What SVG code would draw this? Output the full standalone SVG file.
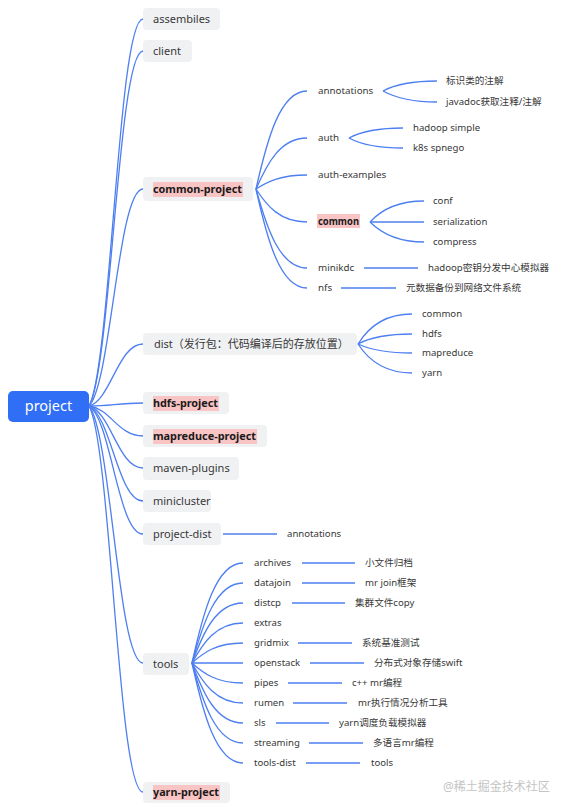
<svg xmlns="http://www.w3.org/2000/svg" width="567" height="812" viewBox="0 0 567 812">
<style>
text{font-family:"Noto Sans","Noto Sans CJK SC",sans-serif;fill:#383838;}
.l1{font-size:11px;}
.l2{font-size:9.8px;}
.l3{font-size:9.6px;}
.b{font-weight:bold;fill:#1a1a1a;}
.box{fill:#f0f1f3;}
.hl{fill:#f9c4c4;}
.c path,.c line{fill:none;stroke:#4d7ff2;stroke-width:1.3;}
.root{fill:#2f6ef5;}
.rt{fill:#ffffff;font-size:14.5px;}
.wm{fill:#c4c4c4;font-size:12px;}
</style>
<g id="connectors" class="c">
<!-- root fan -->
<path d="M89,406 C111,367 118,19 143,19"/>
<path d="M89,406 C111,370 118,51 143,51"/>
<path d="M89,406 C111,384 118,189 143,189"/>
<path d="M89,406 C111,400 118,344 143,344"/>
<path d="M89,406 C111,406 118,403 143,403"/>
<path d="M89,406 C111,409 118,436 143,436"/>
<path d="M89,406 C111,412 118,468 143,468"/>
<path d="M89,406 C111,416 118,501 143,501"/>
<path d="M89,406 C111,419 118,534 143,534"/>
<path d="M89,406 C111,432 118,663 143,663"/>
<path d="M89,406 C111,445 118,792 143,792"/>
<!-- common-project fan -->
<path d="M256,189 C267,140 280,91 307,91"/>
<path d="M256,189 C267,164 280,138 307,138"/>
<path d="M256,189 C267,182 280,175 307,175"/>
<path d="M256,189 C267,206 280,222 307,222"/>
<path d="M256,189 C267,229 280,268 307,268"/>
<path d="M256,189 C267,239 280,288 307,288"/>
<!-- annotations fan -->
<path d="M383,91 C394,85 410,81 437,81"/>
<path d="M383,91 C394,97 410,102 437,102"/>
<!-- auth fan -->
<path d="M349,138 C360,132 376,128 403,128"/>
<path d="M349,138 C360,144 376,148 403,148"/>
<!-- common fan -->
<path d="M370,222 C381,210 397,201 424,201"/>
<path d="M370,222 C381,222 397,222 424,222"/>
<path d="M370,222 C381,233 397,242 424,242"/>
<line x1="364" y1="268" x2="418" y2="268"/>
<line x1="341" y1="288" x2="396" y2="288"/>
<!-- dist fan -->
<path d="M358,344 C369,326 385,314 412,314"/>
<path d="M358,344 C369,338 385,334 412,334"/>
<path d="M358,344 C369,349 385,353 412,353"/>
<path d="M358,344 C369,361 385,373 412,373"/>
<!-- project-dist -->
<line x1="223" y1="534" x2="277" y2="534"/>
<!-- tools fan -->
<path d="M192,663 C203,613 216,563 243,563"/>
<path d="M192,663 C203,623 216,583 243,583"/>
<path d="M192,663 C203,633 216,603 243,603"/>
<path d="M192,663 C203,643 216,623 243,623"/>
<path d="M192,663 C203,653 216,643 243,643"/>
<path d="M192,663 C203,663 216,663 243,663"/>
<path d="M192,663 C203,673 216,683 243,683"/>
<path d="M192,663 C203,683 216,703 243,703"/>
<path d="M192,663 C203,693 216,723 243,723"/>
<path d="M192,663 C203,703 216,743 243,743"/>
<path d="M192,663 C203,713 216,763 243,763"/>
<!-- tools leaf lines -->
<line x1="302" y1="563" x2="355" y2="563"/>
<line x1="302" y1="583" x2="355" y2="583"/>
<line x1="292" y1="603" x2="345" y2="603"/>
<line x1="298" y1="643" x2="352" y2="643"/>
<line x1="310" y1="663" x2="364" y2="663"/>
<line x1="288" y1="683" x2="342" y2="683"/>
<line x1="293" y1="703" x2="347" y2="703"/>
<line x1="276" y1="723" x2="329" y2="723"/>
<line x1="309" y1="743" x2="363" y2="743"/>
<line x1="306" y1="763" x2="360" y2="763"/>
</g>
<g id="project"><rect class="root" x="8" y="391" width="81" height="31" rx="5"/><text class="rt" x="48.5" y="406" dy="0.35em" text-anchor="middle">project</text></g>
<g id="assembiles"><rect class="box" x="143" y="8" width="77" height="22" rx="4"/><text class="l1" x="153" y="19" dy="0.35em">assembiles</text></g>
<g id="client"><rect class="box" x="143" y="40" width="49" height="22" rx="4"/><text class="l1" x="153" y="51" dy="0.35em">client</text></g>
<g id="common-project"><rect class="box" x="143" y="177" width="110" height="24" rx="4"/><rect class="hl" x="153" y="182" width="90" height="15"/><text class="l1 b" x="153" y="189" dy="0.35em" textLength="89" lengthAdjust="spacingAndGlyphs">common-project</text></g>
<g id="dist"><rect class="box" x="143" y="333" width="214" height="22" rx="4"/><text class="l1" x="154" y="344" dy="0.35em">dist（发行包：代码编译后的存放位置）</text></g>
<g id="hdfs-project"><rect class="box" x="143" y="392" width="86" height="22" rx="4"/><rect class="hl" x="153" y="396" width="66" height="15"/><text class="l1 b" x="153" y="403" dy="0.35em" textLength="65" lengthAdjust="spacingAndGlyphs">hdfs-project</text></g>
<g id="mapreduce-project"><rect class="box" x="143" y="425" width="124" height="22" rx="4"/><rect class="hl" x="153" y="429" width="104" height="15"/><text class="l1 b" x="153" y="436" dy="0.35em" textLength="103" lengthAdjust="spacingAndGlyphs">mapreduce-project</text></g>
<g id="maven-plugins"><rect class="box" x="143" y="457" width="96" height="23" rx="4"/><text class="l1" x="153" y="468.5" dy="0.35em">maven-plugins</text></g>
<g id="minicluster"><rect class="box" x="143" y="490" width="68" height="22" rx="4"/><text class="l1" x="153" y="501" dy="0.35em">minicluster</text></g>
<g id="project-dist"><rect class="box" x="143" y="523" width="78" height="22" rx="4"/><text class="l1" x="153" y="534" dy="0.35em">project-dist</text></g>
<g id="tools"><rect class="box" x="143" y="653" width="46" height="22" rx="4"/><text class="l1" x="153" y="664" dy="0.35em">tools</text></g>
<g id="yarn-project"><rect class="box" x="143" y="782" width="87" height="21" rx="4"/><rect class="hl" x="153" y="785" width="67" height="15"/><text class="l1 b" x="153" y="792.5" dy="0.35em" textLength="66" lengthAdjust="spacingAndGlyphs">yarn-project</text></g>
<!-- common-project children -->
<g id="cp-annotations"><text class="l2" x="318" y="91" dy="0.35em">annotations</text></g>
<g id="cp-auth"><text class="l2" x="318" y="138" dy="0.35em">auth</text></g>
<g id="cp-auth-examples"><text class="l2" x="318" y="175" dy="0.35em">auth-examples</text></g>
<g id="cp-common"><rect class="hl" x="317" y="214" width="43" height="14"/><text class="l2 b" x="318" y="221.5" dy="0.35em" textLength="41" lengthAdjust="spacingAndGlyphs">common</text></g>
<g id="cp-minikdc"><text class="l2" x="318" y="268" dy="0.35em">minikdc</text></g>
<g id="cp-nfs"><text class="l2" x="318" y="288" dy="0.35em">nfs</text></g>
<g id="ann-1"><text class="l3" x="446" y="81" dy="0.35em">标识类的注解</text></g>
<g id="ann-2"><text class="l3" x="446" y="102" dy="0.35em">javadoc获取注释/注解</text></g>
<g id="auth-1"><text class="l3" x="413" y="128" dy="0.35em">hadoop simple</text></g>
<g id="auth-2"><text class="l3" x="413" y="148" dy="0.35em">k8s spnego</text></g>
<g id="common-conf"><text class="l3" x="433" y="201" dy="0.35em">conf</text></g>
<g id="common-serialization"><text class="l3" x="433" y="222" dy="0.35em">serialization</text></g>
<g id="common-compress"><text class="l3" x="433" y="242" dy="0.35em">compress</text></g>
<g id="minikdc-1"><text class="l3" x="428" y="268" dy="0.35em">hadoop密钥分发中心模拟器</text></g>
<g id="nfs-1"><text class="l3" x="406" y="288" dy="0.35em">元数据备份到网络文件系统</text></g>
<!-- dist children -->
<g id="dist-common"><text class="l3" x="422" y="314" dy="0.35em">common</text></g>
<g id="dist-hdfs"><text class="l3" x="422" y="334" dy="0.35em">hdfs</text></g>
<g id="dist-mapreduce"><text class="l3" x="422" y="353" dy="0.35em">mapreduce</text></g>
<g id="dist-yarn"><text class="l3" x="422" y="373" dy="0.35em">yarn</text></g>
<g id="pd-annotations"><text class="l3" x="287" y="534" dy="0.35em">annotations</text></g>
<!-- tools children -->
<g id="t-archives"><text class="l3" x="254" y="563" dy="0.35em">archives</text></g>
<g id="t-datajoin"><text class="l3" x="254" y="583" dy="0.35em">datajoin</text></g>
<g id="t-distcp"><text class="l3" x="254" y="603" dy="0.35em">distcp</text></g>
<g id="t-extras"><text class="l3" x="254" y="623" dy="0.35em">extras</text></g>
<g id="t-gridmix"><text class="l3" x="254" y="643" dy="0.35em">gridmix</text></g>
<g id="t-openstack"><text class="l3" x="254" y="663" dy="0.35em">openstack</text></g>
<g id="t-pipes"><text class="l3" x="254" y="683" dy="0.35em">pipes</text></g>
<g id="t-rumen"><text class="l3" x="254" y="703" dy="0.35em">rumen</text></g>
<g id="t-sls"><text class="l3" x="254" y="723" dy="0.35em">sls</text></g>
<g id="t-streaming"><text class="l3" x="254" y="743" dy="0.35em">streaming</text></g>
<g id="t-tools-dist"><text class="l3" x="254" y="763" dy="0.35em">tools-dist</text></g>
<g id="tl-archives"><text class="l3" x="365" y="563" dy="0.35em">小文件归档</text></g>
<g id="tl-datajoin"><text class="l3" x="365" y="583" dy="0.35em">mr join框架</text></g>
<g id="tl-distcp"><text class="l3" x="355" y="603" dy="0.35em">集群文件copy</text></g>
<g id="tl-gridmix"><text class="l3" x="362" y="643" dy="0.35em">系统基准测试</text></g>
<g id="tl-openstack"><text class="l3" x="374" y="663" dy="0.35em">分布式对象存储swift</text></g>
<g id="tl-pipes"><text class="l3" x="352" y="683" dy="0.35em">c++ mr编程</text></g>
<g id="tl-rumen"><text class="l3" x="358" y="703" dy="0.35em">mr执行情况分析工具</text></g>
<g id="tl-sls"><text class="l3" x="339" y="723" dy="0.35em">yarn调度负载模拟器</text></g>
<g id="tl-streaming"><text class="l3" x="373" y="743" dy="0.35em">多语言mr编程</text></g>
<g id="tl-tools-dist"><text class="l3" x="371" y="763" dy="0.35em">tools</text></g>
<text class="wm" x="443" y="791">@稀土掘金技术社区</text>
</svg>
